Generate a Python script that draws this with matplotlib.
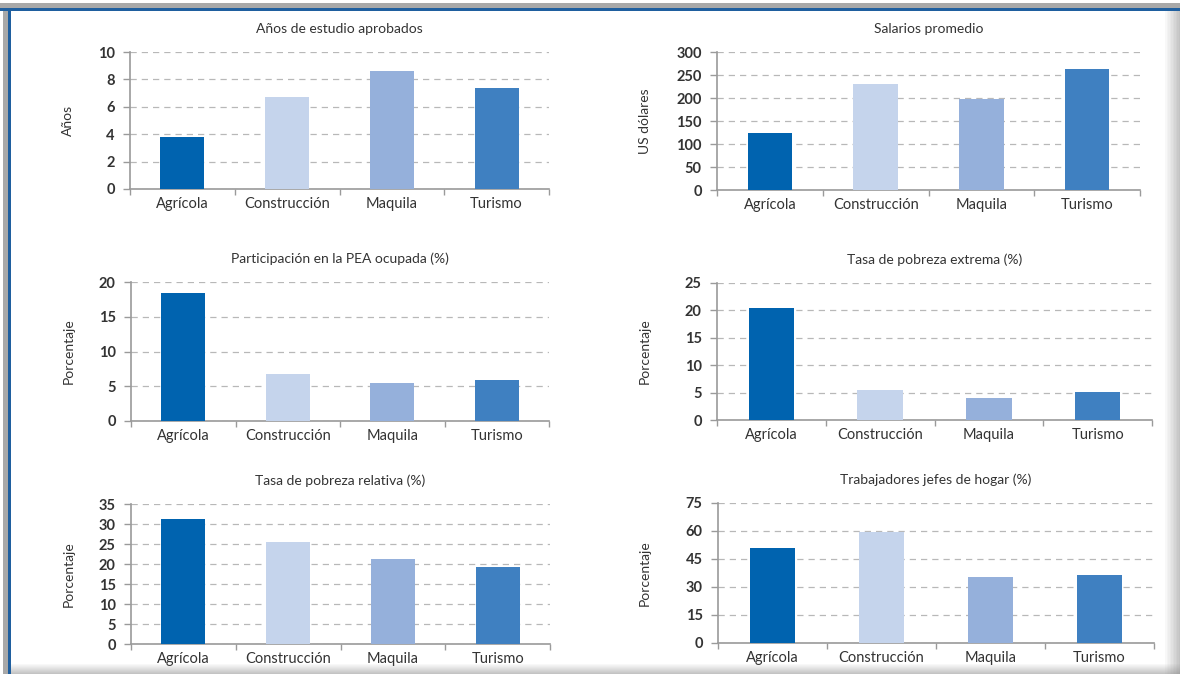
import matplotlib
matplotlib.use('Agg')
import matplotlib.pyplot as plt
from matplotlib.patches import Rectangle
import numpy as np

plt.rcParams['font.family'] = ['Lato', 'DejaVu Sans']

categories = ['Agrícola', 'Construcción', 'Maquila', 'Turismo']
colors = ['#0063af', '#c5d4ec', '#95b0db', '#3f80c1']

anios = [3.8, 6.7, 8.6, 7.4]
salarios = [125, 230, 197, 262]
pea = [18.4, 6.8, 5.4, 5.95]
pobreza_ext = [20.5, 5.4, 4.0, 5.05]
pobreza_rel = [31.2, 25.4, 21.2, 19.2]
jefes = [50.9, 59.3, 35.2, 36.6]

titles = ['Años de estudio aprobados', 'Salarios promedio',
          'Participación en la PEA ocupada (%)', 'Tasa de pobreza extrema (%)',
          'Tasa de pobreza relativa (%)', 'Trabajadores jefes de hogar (%)']
ylabels = ['Años', 'US dólares', 'Porcentaje', 'Porcentaje', 'Porcentaje', 'Porcentaje']
series = [anios, salarios, pea, pobreza_ext, pobreza_rel, jefes]
yticks = [np.arange(0, 11, 2), np.arange(0, 301, 50), np.arange(0, 21, 5),
          np.arange(0, 26, 5), np.arange(0, 36, 5), np.arange(0, 76, 15)]

W, H = 1180, 674
# axes boxes in pixels: left, top, right, bottom, ylabel x
boxes = [(130, 52, 549, 189, 68), (717, 52, 1140, 190, 645),
         (131, 282, 549, 421, 69), (717, 283, 1152, 420, 645),
         (131, 504, 550, 644, 69), (718, 503, 1154, 643, 645)]

fig = plt.figure(figsize=(W / 100, H / 100), dpi=100)
fig.patch.set_facecolor('white')

grey = '#9a9a9a'
txt = '#333333'

for i, (l, t, r, b, lx) in enumerate(boxes):
    ax = fig.add_axes([l / W, 1 - b / H, (r - l) / W, (b - t) / H])
    x = np.arange(len(categories))
    ax.bar(x, series[i], width=0.42, color=colors, zorder=3)
    ax.set_xlim(-0.5, 3.5)
    ax.set_ylim(yticks[i][0], yticks[i][-1])
    ax.set_yticks(yticks[i])
    ax.set_xticks(x)
    ax.set_xticklabels(categories, fontsize=10.5, color=txt)
    ax.set_xticks(np.arange(-0.5, 4, 1), minor=True)
    ax.tick_params(axis='x', which='major', length=0, pad=6)
    ax.tick_params(axis='x', which='minor', length=4, color=grey, width=1)
    ax.tick_params(axis='y', length=5, color=grey, width=1, labelsize=10.5,
                   labelcolor=txt, pad=6)
    for lab in ax.get_yticklabels():
        lab.set_fontweight('bold')
    ax.yaxis.grid(True, linestyle=(0, (5, 4)), color='#b8b8b8', linewidth=0.9, zorder=0)
    ax.set_axisbelow(True)
    for s in ['top', 'right']:
        ax.spines[s].set_visible(False)
    for s in ['left', 'bottom']:
        ax.spines[s].set_color(grey)
        ax.spines[s].set_linewidth(1.2)
    ax.set_title(titles[i], fontsize=10, color=txt, pad=14)
    fig.text(lx / W, 1 - ((t + b) / 2) / H, ylabels[i], rotation=90,
             ha='center', va='center', fontsize=10, color=txt)

# page frame: grey and blue line on top and left, soft shadow right and bottom
fig.add_artist(Rectangle((0, 1 - 8 / H), 1, 5 / H, transform=fig.transFigure,
                         color='#a8a8a8', lw=0))
fig.add_artist(Rectangle((3 / W, 0), 5 / W, 1 - 3 / H, transform=fig.transFigure,
                         color='#a8a8a8', lw=0))
fig.add_artist(Rectangle((0, 1 - 11 / H), 1, 3 / H, transform=fig.transFigure,
                         color='#1f5f9f', lw=0))
fig.add_artist(Rectangle((8 / W, 0), 3 / W, 1 - 8 / H, transform=fig.transFigure,
                         color='#1f5f9f', lw=0))
for k in range(10):
    a = 0.05 + 0.05 * k
    fig.add_artist(Rectangle(((1165 + k * 1.5) / W, 0), 1.5 / W, 1 - 11 / H,
                             transform=fig.transFigure, color='#888888', alpha=a, lw=0))
    fig.add_artist(Rectangle((11 / W, (9 - k) * 1 / H), 1 - 11 / W, 1 / H,
                             transform=fig.transFigure, color='#888888', alpha=a, lw=0))

fig.savefig('out.png', dpi=100)
